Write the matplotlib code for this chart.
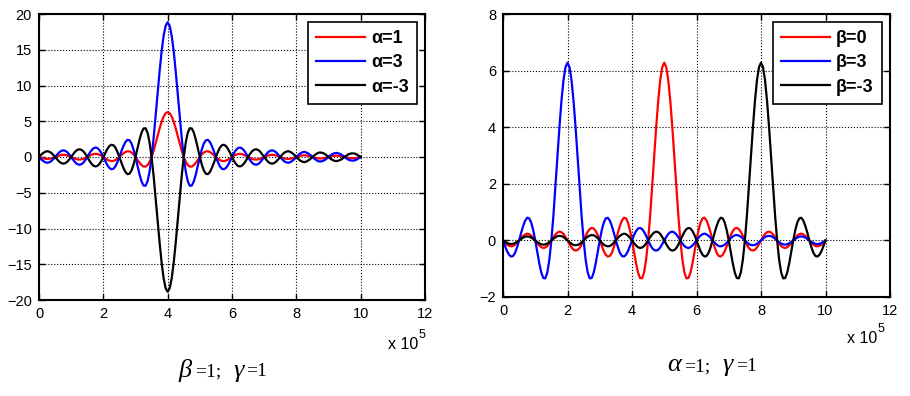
import numpy as np
import matplotlib
matplotlib.use("Agg")
import matplotlib.pyplot as plt
from matplotlib.offsetbox import TextArea, HPacker, AnchoredOffsetbox

plt.rcParams["font.family"] = ["Liberation Sans", "DejaVu Sans"]

# sample positions, in units of 10^5 (step 1/16, one row = one period)
x = np.arange(161) / 16

# left panel: beta=1, gamma=1, different alpha
alpha_1 = [0, -0.10, -0.18, -0.24, -0.27, -0.25, -0.20, -0.11, 0, 0.11, 0.21, 0.28, 0.31, 0.29, 0.23, 0.12,
           0, -0.13, -0.25, -0.33, -0.36, -0.34, -0.27, -0.15, 0, 0.16, 0.30, 0.40, 0.44, 0.42, 0.33, 0.19,
           0, -0.20, -0.38, -0.51, -0.57, -0.55, -0.44, -0.24, 0, 0.27, 0.51, 0.70, 0.80, 0.78, 0.63, 0.36,
           0, -0.41, -0.81, -1.14, -1.33, -1.34, -1.13, -0.68, 0, 0.87, 1.89, 2.96, 4.00, 4.93, 5.66, 6.12,
           6.28, 6.12, 5.66, 4.93, 4.00, 2.96, 1.89, 0.87, 0, -0.68, -1.13, -1.34, -1.33, -1.14, -0.81, -0.41,
           0, 0.36, 0.63, 0.78, 0.80, 0.70, 0.51, 0.27, 0, -0.24, -0.44, -0.55, -0.57, -0.51, -0.38, -0.20,
           0, 0.19, 0.33, 0.42, 0.44, 0.40, 0.30, 0.16, 0, -0.15, -0.27, -0.34, -0.36, -0.33, -0.25, -0.13,
           0, 0.12, 0.23, 0.29, 0.31, 0.28, 0.21, 0.11, 0, -0.11, -0.20, -0.25, -0.27, -0.24, -0.18, -0.10,
           0, 0.09, 0.17, 0.22, 0.24, 0.21, 0.16, 0.09, 0, -0.08, -0.15, -0.20, -0.21, -0.19, -0.15, -0.08,
           0, 0.08, 0.14, 0.18, 0.19, 0.17, 0.13, 0.07, 0, -0.07, -0.13, -0.16, -0.17, -0.16, -0.12, -0.06,
           0]
alpha_3 = [0, -0.30, -0.54, -0.72, -0.81, -0.75, -0.60, -0.33, 0, 0.33, 0.63, 0.84, 0.93, 0.87, 0.69, 0.36,
           0, -0.39, -0.75, -0.99, -1.08, -1.02, -0.81, -0.45, 0, 0.48, 0.90, 1.20, 1.32, 1.26, 0.99, 0.57,
           0, -0.60, -1.14, -1.53, -1.71, -1.65, -1.32, -0.72, 0, 0.81, 1.53, 2.10, 2.40, 2.34, 1.89, 1.08,
           0, -1.23, -2.43, -3.42, -3.99, -4.02, -3.39, -2.04, 0, 2.61, 5.67, 8.88, 12.00, 14.79, 16.98, 18.36,
           18.85, 18.36, 16.98, 14.79, 12.00, 8.88, 5.67, 2.61, 0, -2.04, -3.39, -4.02, -3.99, -3.42, -2.43, -1.23,
           0, 1.08, 1.89, 2.34, 2.40, 2.10, 1.53, 0.81, 0, -0.72, -1.32, -1.65, -1.71, -1.53, -1.14, -0.60,
           0, 0.57, 0.99, 1.26, 1.32, 1.20, 0.90, 0.48, 0, -0.45, -0.81, -1.02, -1.08, -0.99, -0.75, -0.39,
           0, 0.36, 0.69, 0.87, 0.93, 0.84, 0.63, 0.33, 0, -0.33, -0.60, -0.75, -0.81, -0.72, -0.54, -0.30,
           0, 0.27, 0.51, 0.66, 0.72, 0.63, 0.48, 0.27, 0, -0.24, -0.45, -0.60, -0.63, -0.57, -0.45, -0.24,
           0, 0.24, 0.42, 0.54, 0.57, 0.51, 0.39, 0.21, 0, -0.21, -0.39, -0.48, -0.51, -0.48, -0.36, -0.18,
           0]
alpha_m3 = [0, 0.30, 0.54, 0.72, 0.81, 0.75, 0.60, 0.33, 0, -0.33, -0.63, -0.84, -0.93, -0.87, -0.69, -0.36,
            0, 0.39, 0.75, 0.99, 1.08, 1.02, 0.81, 0.45, 0, -0.48, -0.90, -1.20, -1.32, -1.26, -0.99, -0.57,
            0, 0.60, 1.14, 1.53, 1.71, 1.65, 1.32, 0.72, 0, -0.81, -1.53, -2.10, -2.40, -2.34, -1.89, -1.08,
            0, 1.23, 2.43, 3.42, 3.99, 4.02, 3.39, 2.04, 0, -2.61, -5.67, -8.88, -12.00, -14.79, -16.98, -18.36,
            -18.85, -18.36, -16.98, -14.79, -12.00, -8.88, -5.67, -2.61, 0, 2.04, 3.39, 4.02, 3.99, 3.42, 2.43, 1.23,
            0, -1.08, -1.89, -2.34, -2.40, -2.10, -1.53, -0.81, 0, 0.72, 1.32, 1.65, 1.71, 1.53, 1.14, 0.60,
            0, -0.57, -0.99, -1.26, -1.32, -1.20, -0.90, -0.48, 0, 0.45, 0.81, 1.02, 1.08, 0.99, 0.75, 0.39,
            0, -0.36, -0.69, -0.87, -0.93, -0.84, -0.63, -0.33, 0, 0.33, 0.60, 0.75, 0.81, 0.72, 0.54, 0.30,
            0, -0.27, -0.51, -0.66, -0.72, -0.63, -0.48, -0.27, 0, 0.24, 0.45, 0.60, 0.63, 0.57, 0.45, 0.24,
            0, -0.24, -0.42, -0.54, -0.57, -0.51, -0.39, -0.21, 0, 0.21, 0.39, 0.48, 0.51, 0.48, 0.36, 0.18,
            0]

# right panel: alpha=1, gamma=1, different beta
beta_0 = [0, -0.08, -0.15, -0.19, -0.21, -0.20, -0.15, -0.08, 0, 0.09, 0.16, 0.21, 0.24, 0.22, 0.17, 0.09,
          0, -0.10, -0.18, -0.24, -0.27, -0.25, -0.20, -0.11, 0, 0.11, 0.21, 0.28, 0.31, 0.29, 0.23, 0.12,
          0, -0.13, -0.25, -0.33, -0.36, -0.34, -0.27, -0.15, 0, 0.16, 0.30, 0.40, 0.44, 0.42, 0.33, 0.19,
          0, -0.20, -0.38, -0.51, -0.57, -0.55, -0.44, -0.24, 0, 0.27, 0.51, 0.70, 0.80, 0.78, 0.63, 0.36,
          0, -0.41, -0.81, -1.14, -1.33, -1.34, -1.13, -0.68, 0, 0.87, 1.89, 2.96, 4.00, 4.93, 5.66, 6.12,
          6.28, 6.12, 5.66, 4.93, 4.00, 2.96, 1.89, 0.87, 0, -0.68, -1.13, -1.34, -1.33, -1.14, -0.81, -0.41,
          0, 0.36, 0.63, 0.78, 0.80, 0.70, 0.51, 0.27, 0, -0.24, -0.44, -0.55, -0.57, -0.51, -0.38, -0.20,
          0, 0.19, 0.33, 0.42, 0.44, 0.40, 0.30, 0.16, 0, -0.15, -0.27, -0.34, -0.36, -0.33, -0.25, -0.13,
          0, 0.12, 0.23, 0.29, 0.31, 0.28, 0.21, 0.11, 0, -0.11, -0.20, -0.25, -0.27, -0.24, -0.18, -0.10,
          0, 0.09, 0.17, 0.22, 0.24, 0.21, 0.16, 0.09, 0, -0.08, -0.15, -0.20, -0.21, -0.19, -0.15, -0.08,
          0]
beta_3 = [0, -0.20, -0.38, -0.51, -0.57, -0.55, -0.44, -0.24, 0, 0.27, 0.51, 0.70, 0.80, 0.78, 0.63, 0.36,
          0, -0.41, -0.81, -1.14, -1.33, -1.34, -1.13, -0.68, 0, 0.87, 1.89, 2.96, 4.00, 4.93, 5.66, 6.12,
          6.28, 6.12, 5.66, 4.93, 4.00, 2.96, 1.89, 0.87, 0, -0.68, -1.13, -1.34, -1.33, -1.14, -0.81, -0.41,
          0, 0.36, 0.63, 0.78, 0.80, 0.70, 0.51, 0.27, 0, -0.24, -0.44, -0.55, -0.57, -0.51, -0.38, -0.20,
          0, 0.19, 0.33, 0.42, 0.44, 0.40, 0.30, 0.16, 0, -0.15, -0.27, -0.34, -0.36, -0.33, -0.25, -0.13,
          0, 0.12, 0.23, 0.29, 0.31, 0.28, 0.21, 0.11, 0, -0.11, -0.20, -0.25, -0.27, -0.24, -0.18, -0.10,
          0, 0.09, 0.17, 0.22, 0.24, 0.21, 0.16, 0.09, 0, -0.08, -0.15, -0.20, -0.21, -0.19, -0.15, -0.08,
          0, 0.08, 0.14, 0.18, 0.19, 0.17, 0.13, 0.07, 0, -0.07, -0.13, -0.16, -0.17, -0.16, -0.12, -0.06,
          0, 0.06, 0.12, 0.15, 0.16, 0.15, 0.11, 0.06, 0, -0.06, -0.11, -0.14, -0.15, -0.14, -0.10, -0.06,
          0, 0.05, 0.10, 0.13, 0.14, 0.13, 0.10, 0.05, 0, -0.05, -0.09, -0.12, -0.13, -0.12, -0.09, -0.05,
          0]
beta_m3 = [0, -0.05, -0.09, -0.12, -0.13, -0.12, -0.09, -0.05, 0, 0.05, 0.10, 0.13, 0.14, 0.13, 0.10, 0.05,
           0, -0.06, -0.10, -0.14, -0.15, -0.14, -0.11, -0.06, 0, 0.06, 0.11, 0.15, 0.16, 0.15, 0.12, 0.06,
           0, -0.06, -0.12, -0.16, -0.17, -0.16, -0.13, -0.07, 0, 0.07, 0.13, 0.17, 0.19, 0.18, 0.14, 0.08,
           0, -0.08, -0.15, -0.19, -0.21, -0.20, -0.15, -0.08, 0, 0.09, 0.16, 0.21, 0.24, 0.22, 0.17, 0.09,
           0, -0.10, -0.18, -0.24, -0.27, -0.25, -0.20, -0.11, 0, 0.11, 0.21, 0.28, 0.31, 0.29, 0.23, 0.12,
           0, -0.13, -0.25, -0.33, -0.36, -0.34, -0.27, -0.15, 0, 0.16, 0.30, 0.40, 0.44, 0.42, 0.33, 0.19,
           0, -0.20, -0.38, -0.51, -0.57, -0.55, -0.44, -0.24, 0, 0.27, 0.51, 0.70, 0.80, 0.78, 0.63, 0.36,
           0, -0.41, -0.81, -1.14, -1.33, -1.34, -1.13, -0.68, 0, 0.87, 1.89, 2.96, 4.00, 4.93, 5.66, 6.12,
           6.28, 6.12, 5.66, 4.93, 4.00, 2.96, 1.89, 0.87, 0, -0.68, -1.13, -1.34, -1.33, -1.14, -0.81, -0.41,
           0, 0.36, 0.63, 0.78, 0.80, 0.70, 0.51, 0.27, 0, -0.24, -0.44, -0.55, -0.57, -0.51, -0.38, -0.20,
           0]

left_labels = ["\u03b1=1", "\u03b1=3", "\u03b1=-3"]
right_labels = ["\u03b2=0", "\u03b2=3", "\u03b2=-3"]
colors = ["#ff0000", "#0000ff", "#000000"]

W, H = 910, 396
fig = plt.figure(figsize=(W / 100, H / 100), dpi=100)


def axes_px(x0, y0, x1, y1):
    return fig.add_axes([x0 / W, 1 - y1 / H, (x1 - x0) / W, (y1 - y0) / H])


def setup(ax, ylim, yticks):
    ax.set_xlim(0, 12)
    ax.set_ylim(*ylim)
    ax.set_xticks(range(0, 13, 2))
    ax.set_yticks(yticks)
    ax.grid(True, color="black", linestyle=":", linewidth=0.8)
    ax.set_axisbelow(True)
    ax.tick_params(direction="in", top=True, right=True, length=4, width=1,
                   labelsize=10.5, pad=5)
    for s in ax.spines.values():
        s.set_linewidth(1.5)


def legend(ax):
    leg = ax.legend(loc="upper right", fancybox=False, framealpha=1,
                    edgecolor="black", prop=dict(weight="bold", size=13),
                    handlelength=2.7, handletextpad=0.35, labelspacing=0.4,
                    borderaxespad=0.45, borderpad=0.45)
    leg.get_frame().set_linewidth(1.2)


def caption(xc, yc, first, second):
    serif = "Liberation Serif"
    big = dict(family=serif, style="italic", size=19)
    small = dict(family=serif, size=14)
    p1 = HPacker(children=[TextArea(first, textprops=big), TextArea("=1;", textprops=small)],
                 sep=2, pad=0, align="baseline")
    p2 = HPacker(children=[TextArea(second, textprops=big), TextArea("=1", textprops=small)],
                 sep=2, pad=0, align="baseline")
    box = HPacker(children=[p1, p2], sep=9, pad=0, align="baseline")
    ab = AnchoredOffsetbox(loc="center", child=box, pad=0, borderpad=0, frameon=False,
                           bbox_to_anchor=(xc / W, 1 - yc / H),
                           bbox_transform=fig.transFigure)
    fig.add_artist(ab)


def exponent(x_right, y_base):
    fig.text(x_right / W, 1 - y_base / H, "x 10", ha="right", va="baseline", fontsize=11.5)
    fig.text((x_right + 1) / W, 1 - (y_base - 11) / H, "5", ha="left", va="baseline", fontsize=9)


# left panel
ax1 = axes_px(39, 14, 425, 300)
for y, lab, c in zip([alpha_1, alpha_3, alpha_m3], left_labels, colors):
    ax1.plot(x, y, color=c, linewidth=1.6, label=lab)
setup(ax1, (-20, 20), range(-20, 21, 5))
legend(ax1)
exponent(418, 349)
caption(223, 370, "\u03b2", "\u03b3")

# right panel
ax2 = axes_px(503, 14, 890, 297)
for y, lab, c in zip([beta_0, beta_3, beta_m3], right_labels, colors):
    ax2.plot(x, y, color=c, linewidth=1.6, label=lab)
setup(ax2, (-2, 8), range(-2, 9, 2))
legend(ax2)
exponent(877, 343)
caption(712, 365, "\u03b1", "\u03b3")

fig.savefig("out.png", dpi=100)
